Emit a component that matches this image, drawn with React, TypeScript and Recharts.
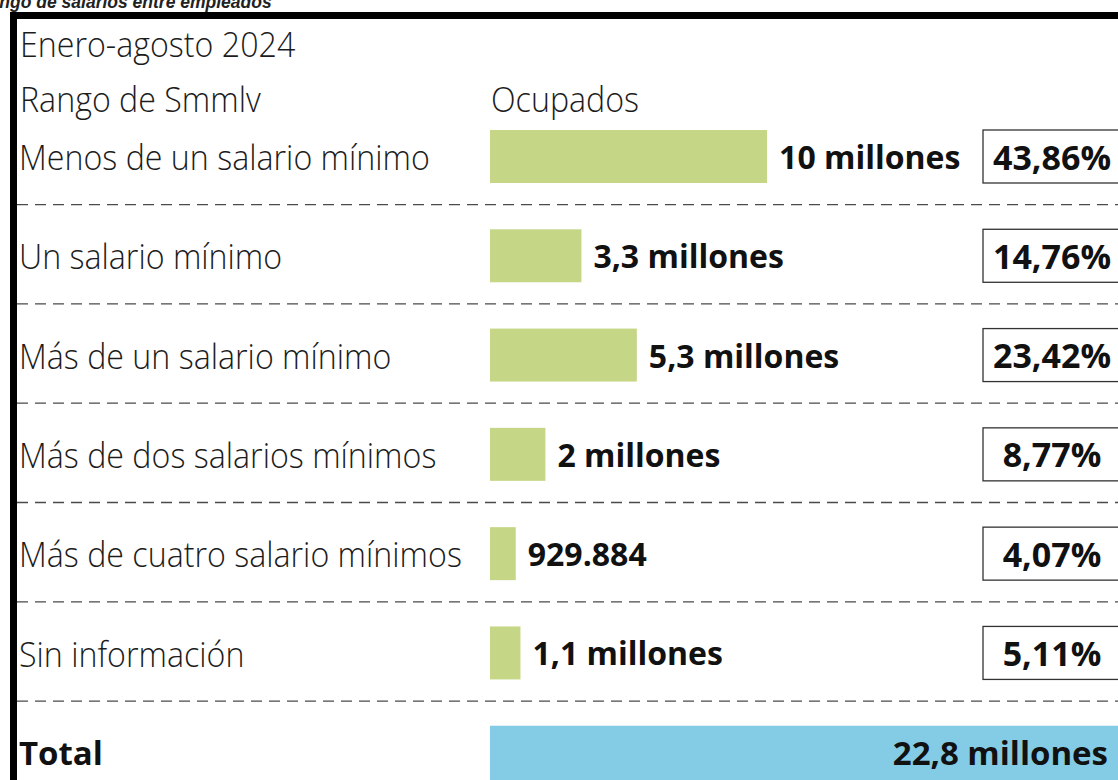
import React from 'react';
import { BarChart, Bar, XAxis, YAxis, LabelList } from 'recharts';

// Rango de salarios entre empleados, enero-agosto 2024
const categorias = [
  'Menos de un salario mínimo',
  'Un salario mínimo',
  'Más de un salario mínimo',
  'Más de dos salarios mínimos',
  'Más de cuatro salario mínimos',
  'Sin información',
  'Total',
];
const ocupados = [10, 3.3, 5.3, 2, 0.93, 1.1, 22.8]; // millones
const etiquetas = [
  '10 millones',
  '3,3 millones',
  '5,3 millones',
  '2 millones',
  '929.884',
  '1,1 millones',
  '22,8 millones',
];
const porcentajes = ['43,86%', '14,76%', '23,42%', '8,77%', '4,07%', '5,11%', ''];

const data = categorias.map((rango, i) => ({
  rango,
  ocupados: ocupados[i],
  etiqueta: etiquetas[i],
  pct: porcentajes[i],
}));

const LIGHT = "'Open Sans', 'Noto Sans', sans-serif";
const GREEN = '#c5d787';
const BLUE = '#84cce6';
const SQUEEZE = 0.92;

function RangoTick(props: any) {
  const { y, payload, index } = props;
  const isTotal = payload.value === 'Total';
  return (
    <g>
      <text
        transform={`translate(19, ${y}) scale(${isTotal ? 1 : SQUEEZE}, 1)`}
        dominantBaseline="central"
        fontFamily={LIGHT}
        fontWeight={isTotal ? 700 : 300}
        fontSize={isTotal ? 33 : 35}
        fill={isTotal ? '#111' : '#1c1c1c'}
      >
        {payload.value}
      </text>
      {index < categorias.length - 1 && (
        <line
          x1={17}
          x2={1160}
          y1={y + 48}
          y2={y + 48}
          stroke="#4a4a4a"
          strokeWidth={1.3}
          strokeDasharray="11 7"
        />
      )}
    </g>
  );
}

function BarShape(props: any) {
  const { x, y, width, height, payload } = props;
  if (payload.rango === 'Total') {
    return <rect x={x} y={y} width={width} height={height + 30} fill={BLUE} />;
  }
  return <rect x={x} y={y} width={width} height={height} fill={GREEN} />;
}

function renderValor(props: any) {
  const { x, y, width, height, value, index } = props;
  const cy = y + height / 2;
  const isTotal = categorias[index] === 'Total';
  return (
    <text
      x={isTotal ? 1108 : x + width + 12}
      y={cy}
      textAnchor={isTotal ? 'end' : 'start'}
      dominantBaseline="central"
      fontFamily={LIGHT}
      fontWeight={700}
      fontSize={isTotal ? 33 : 32}
      fill="#111"
    >
      {value}
    </text>
  );
}

function renderPct(props: any) {
  const { y, height, value } = props;
  if (!value) return null;
  return (
    <g>
      <rect x={983} y={y} width={150} height={height} fill="#fff" stroke="#333" strokeWidth={1.3} />
      <text
        x={1052}
        y={y + height / 2}
        textAnchor="middle"
        dominantBaseline="central"
        fontFamily={LIGHT}
        fontWeight={700}
        fontSize={34}
        fill="#111"
      >
        {value}
      </text>
    </g>
  );
}

export default function App() {
  return (
    <div
      style={{
        position: 'absolute',
        left: 0,
        top: 0,
        width: 1118,
        height: 780,
        overflow: 'hidden',
        background: '#fff',
      }}
    >
      <BarChart
        layout="vertical"
        width={1160}
        height={812}
        data={data}
        margin={{ top: 107, right: 5, bottom: 10, left: 0 }}
      >
        <XAxis type="number" domain={[0, 24]} hide />
        <YAxis
          type="category"
          dataKey="rango"
          width={490}
          axisLine={false}
          tickLine={false}
          interval={0}
          tick={<RangoTick />}
        />
        <Bar dataKey="ocupados" barSize={53} isAnimationActive={false} shape={<BarShape />}>
          <LabelList dataKey="etiqueta" content={renderValor} />
          <LabelList dataKey="pct" content={renderPct} />
        </Bar>
      </BarChart>

      <svg
        width={1118}
        height={780}
        style={{ position: 'absolute', left: 0, top: 0, pointerEvents: 'none' }}
      >
        <text
          x={-23}
          y={8}
          fontFamily="'Liberation Sans', Arial, sans-serif"
          fontStyle="italic"
          fontWeight={700}
          fontSize={17.5}
          fill="#222"
        >
          Rango de salarios entre empleados
        </text>
        <rect x={10} y={12} width={1120} height={7} fill="#000" />
        <rect x={10} y={12} width={7} height={780} fill="#000" />
        <g fontFamily={LIGHT} fontWeight={300} fontSize={35} fill="#1c1c1c">
          <text transform={`translate(20, 43) scale(${SQUEEZE}, 1)`} dominantBaseline="central">
            Enero-agosto 2024
          </text>
          <text transform={`translate(20, 98) scale(${SQUEEZE}, 1)`} dominantBaseline="central">
            Rango de Smmlv
          </text>
          <text transform={`translate(491, 98) scale(${SQUEEZE}, 1)`} dominantBaseline="central">
            Ocupados
          </text>
        </g>
      </svg>
    </div>
  );
}
